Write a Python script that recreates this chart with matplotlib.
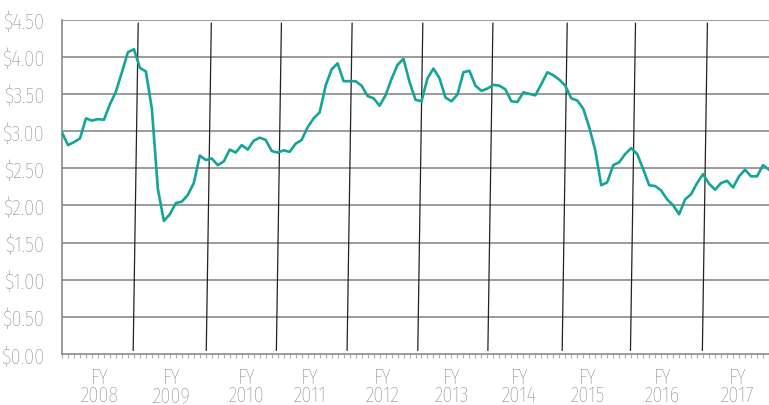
import matplotlib.pyplot as plt
from matplotlib import font_manager
import numpy as np

# monthly price, FY2008 .. FY2017
prices = [2.98, 2.81, 2.85, 2.90, 3.17, 3.14, 3.16, 3.15, 3.36, 3.53,
          3.79, 4.06, 4.10, 3.85, 3.80, 3.30, 2.22, 1.79, 1.88, 2.03,
          2.05, 2.14, 2.30, 2.67, 2.61, 2.63, 2.54, 2.59, 2.75, 2.71,
          2.81, 2.75, 2.87, 2.91, 2.88, 2.73, 2.71, 2.74, 2.72, 2.83,
          2.88, 3.05, 3.17, 3.25, 3.61, 3.83, 3.91, 3.67, 3.67, 3.67,
          3.61, 3.47, 3.44, 3.34, 3.48, 3.70, 3.89, 3.97, 3.66, 3.42,
          3.40, 3.71, 3.84, 3.71, 3.45, 3.40, 3.49, 3.79, 3.81, 3.61,
          3.54, 3.57, 3.62, 3.61, 3.56, 3.40, 3.39, 3.52, 3.50, 3.48,
          3.63, 3.79, 3.75, 3.69, 3.61, 3.44, 3.41, 3.30, 3.05, 2.74,
          2.27, 2.31, 2.54, 2.58, 2.69, 2.77, 2.69, 2.49, 2.27, 2.26,
          2.20, 2.08, 2.00, 1.88, 2.08, 2.15, 2.30, 2.42, 2.29, 2.21,
          2.30, 2.33, 2.24, 2.39, 2.48, 2.39, 2.39, 2.54, 2.48]
months = np.arange(len(prices))

fy_labels = ['FY\n2008', 'FY\n2009', 'FY\n2010', 'FY\n2011', 'FY\n2012',
             'FY\n2013', 'FY\n2014', 'FY\n2015', 'FY\n2016', 'FY\n2017']
fy_centers = [6.2, 18.3, 30.8, 41.4, 53.5, 65.1, 76.3, 87.8, 100.2, 112.7]
# hand-drawn year separators (month position at mid-height)
separators = [12.3, 24.5, 36.2, 48.0, 59.8, 71.5, 83.9, 95.3, 107.3]

names = {f.name for f in font_manager.fontManager.ttflist}
cands = ['Saira Extra Condensed', 'Fira Sans Extra Condensed', 'Roboto Condensed',
         'DejaVu Sans']
plt.rcParams['font.family'] = [c for c in cands if c in names] or ['DejaVu Sans']
plt.rcParams['font.weight'] = 'light'

text_gray = '#7a7a7a'
grid_gray = '#8a8a8a'
teal = '#14a596'

fig = plt.figure(figsize=(7.69, 4.06), dpi=100)
ax = fig.add_axes([62 / 769, 51 / 406, 707 / 769, 334.5 / 406])

for yv in np.arange(0.5, 4.51, 0.5):
    ax.axhline(yv, color=grid_gray, lw=1.2, zorder=1)

for s in separators:
    ax.plot([s + 0.42, s - 0.42], [4.45, 0.05], color='#222222', lw=0.9, zorder=2)

ax.plot(months, prices, color=teal, lw=1.9, zorder=3)

ax.set_xlim(0, len(prices) - 1)
ax.set_ylim(0, 4.5)

for side in ['top', 'right']:
    ax.spines[side].set_visible(False)
for side in ['left', 'bottom']:
    ax.spines[side].set_color(grid_gray)
    ax.spines[side].set_linewidth(1.2)

ax.set_yticks(np.arange(0, 4.51, 0.5))
ax.set_yticklabels(['$%.2f' % v for v in np.arange(0, 4.51, 0.5)])
ax.tick_params(axis='y', length=0, pad=13, labelsize=16, labelcolor=text_gray)

ax.set_xticks(fy_centers)
ax.set_xticklabels(fy_labels, linespacing=0.78)
ax.set_xticks(months, minor=True)
ax.tick_params(axis='x', which='major', length=0, pad=9, labelsize=16,
               labelcolor=text_gray)
ax.tick_params(axis='x', which='minor', length=3, width=0.8, color='#aaaaaa',
               direction='out')

fig.savefig('out.png', dpi=100)
